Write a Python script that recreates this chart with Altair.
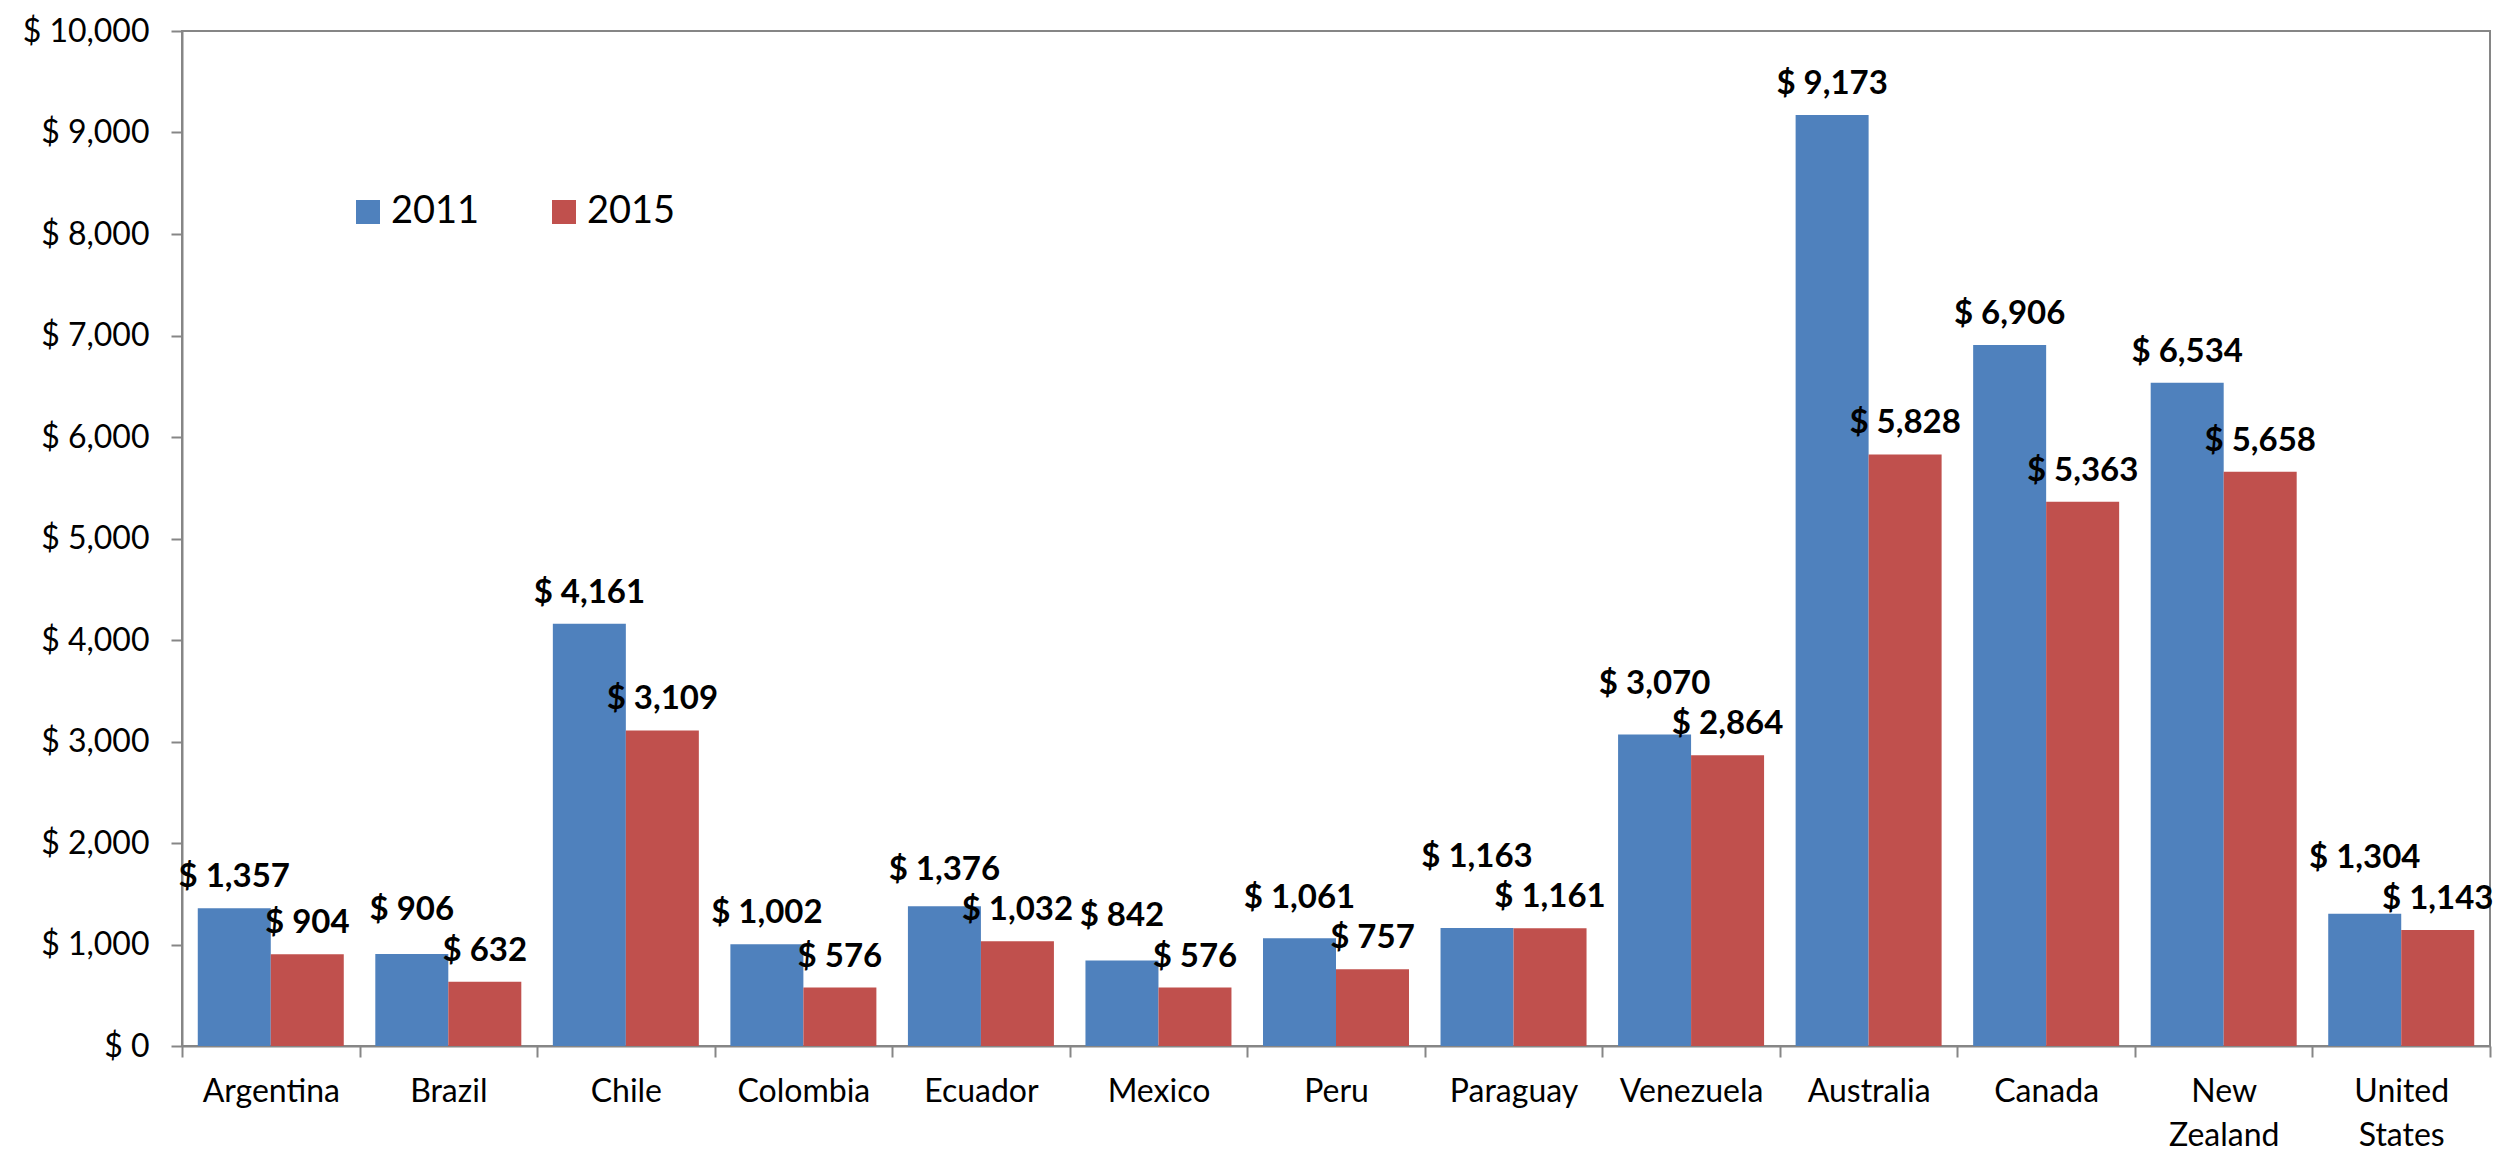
import altair as alt
import pandas as pd

countries = ["Argentina", "Brazil", "Chile", "Colombia", "Ecuador", "Mexico", "Peru",
             "Paraguay", "Venezuela", "Australia", "Canada", "New Zealand", "United States"]
values_2011 = [1357, 906, 4161, 1002, 1376, 842, 1061, 1163, 3070, 9173, 6906, 6534, 1304]
values_2015 = [904, 632, 3109, 576, 1032, 576, 757, 1161, 2864, 5828, 5363, 5658, 1143]
years = ["2011", "2015"]
colors = ["#4F81BD", "#C0504D"]
y_ticks = list(range(0, 10001, 1000))

rows = []
for c, a, b in zip(countries, values_2011, values_2015):
    rows.append({"country": c, "year": years[0], "value": a})
    rows.append({"country": c, "year": years[1], "value": b})
df = pd.DataFrame(rows)

W, H = 2308, 1015
FONT = "Lato"
AX = "#868686"
LABEL_GAP = 400  # minimum separation (in value units) between the two labels of a country

x_enc = alt.X(
    "country:N", sort=countries,
    scale=alt.Scale(paddingInner=0, paddingOuter=0),
    axis=alt.Axis(
        title=None, labelAngle=0, labelFont=FONT, labelFontSize=32, labelColor="black",
        labelPadding=19, labelExpr="split(datum.label, ' ')", labelLineHeight=44,
        domainColor=AX, domainWidth=2, tickColor=AX, tickWidth=2, tickSize=11,
        tickBand="extent", labelBaseline="top",
    ),
)
xoff = alt.XOffset("year:N", sort=years, scale=alt.Scale(paddingOuter=0.216, paddingInner=0))
y_axis = alt.Axis(
    title=None, values=y_ticks, grid=False,
    labelExpr="'$ ' + format(datum.value, ',')",
    labelFont=FONT, labelFontSize=32, labelColor="black", labelPadding=22,
    domainColor=AX, domainWidth=2, tickColor=AX, tickWidth=2, tickSize=11,
)
y_scale = alt.Scale(domain=[0, 10000], nice=False)
color_enc = alt.Color(
    "year:N", sort=years,
    scale=alt.Scale(domain=years, range=colors),
    legend=alt.Legend(
        title=None, orient="none", direction="horizontal", legendX=167, legendY=162,
        symbolType="square", symbolSize=576, symbolStrokeWidth=0, symbolOpacity=1,
        labelFont=FONT, labelFontSize=38, labelColor="black", labelOffset=4,
        columnPadding=65, padding=0,
    ),
)

base = alt.Chart(df).transform_calculate(
    label="'$ ' + format(datum.value, ',')",
    v15="datum.year == '2015' ? datum.value : 0",
).transform_joinaggregate(
    other15="sum(v15)", groupby=["country"]
).transform_calculate(
    label_y=f"datum.year == '2011' ? max(datum.value, datum.other15 + {LABEL_GAP}) : datum.value"
)

bars = base.mark_bar(opacity=1).encode(
    x=x_enc, xOffset=xoff,
    y=alt.Y("value:Q", scale=y_scale, axis=y_axis),
    color=color_enc,
)
labels = base.mark_text(
    font=FONT, fontSize=33, fontWeight="bold", baseline="alphabetic", dy=-21, color="black"
).encode(
    x=x_enc, xOffset=xoff,
    y=alt.Y("label_y:Q", scale=y_scale, axis=y_axis),
    text="label:N",
)

chart = alt.layer(bars, labels).properties(
    width=W, height=H,
    autosize=alt.AutoSizeParams(type="none"),
    padding={"left": 174, "top": 23, "right": 21, "bottom": 108},
).configure_view(stroke=AX, strokeWidth=2)

chart.save("out.html", embed_options={"renderer": "svg", "actions": False})
